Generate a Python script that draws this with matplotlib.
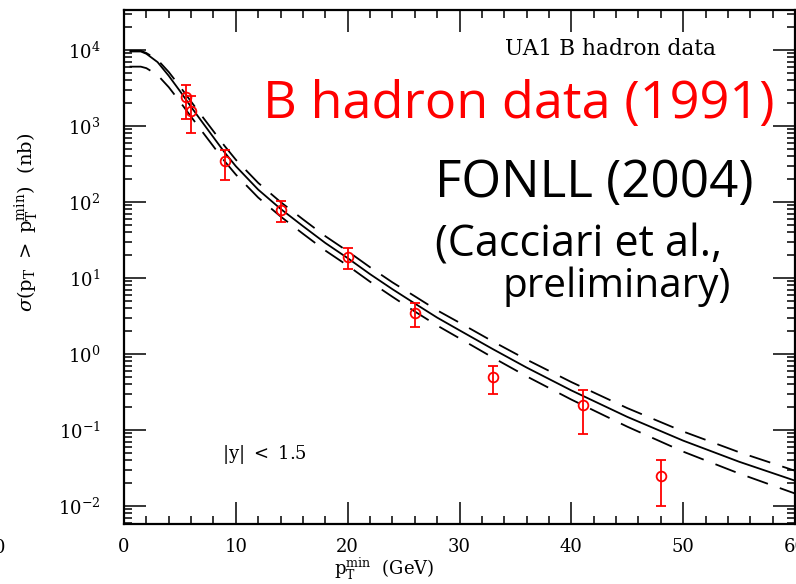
import matplotlib
matplotlib.use("Agg")
import matplotlib.pyplot as plt
from matplotlib.ticker import LogLocator, MultipleLocator, NullFormatter, FixedLocator

plt.rcParams["mathtext.fontset"] = "dejavuserif"
plt.rcParams["font.family"] = "DejaVu Serif"

# UA1 B hadron data: integrated cross section sigma(pT > pTmin) in nb
pt_data = [5.5, 6.0, 9.0, 14.0, 20.0, 26.0, 33.0, 41.0, 48.0]
sigma_data = [2380, 1590, 342, 79, 18.7, 3.46, 0.49, 0.21, 0.025]
sigma_hi = [3490, 2500, 488, 102, 24.8, 4.63, 0.70, 0.33, 0.0395]
sigma_lo = [1250, 800, 195, 55, 12.9, 2.24, 0.298, 0.0886, 0.0099]

# FONLL prediction: central value and uncertainty band edges
pt_theory = [0.5, 1.5, 2, 3, 4, 5, 6, 7, 8, 9, 10, 12, 14, 16, 18, 20, 22, 24,
             26, 28, 30, 33, 36, 40, 45, 50, 55, 60]
fonll_central = [9550, 9550, 8910, 6920, 4570, 2880, 1780, 1120, 708, 447, 295,
                 145, 81, 48, 28.8, 18.2, 11.2, 7.1, 4.6, 3.0, 2.04, 1.15, 0.66,
                 0.33, 0.148, 0.072, 0.038, 0.0214]
fonll_upper = [9770, 9770, 9110, 7420, 5130, 3310, 2090, 1330, 851, 544, 359,
               178, 99.6, 59.0, 35.4, 22.4, 13.8, 8.73, 5.73, 3.74, 2.57, 1.45,
               0.84, 0.425, 0.193, 0.095, 0.0507, 0.0289]
fonll_lower = [6030, 6030, 5760, 4680, 3240, 2085, 1320, 840, 537, 343, 229,
               114, 64.3, 38.1, 22.9, 14.5, 8.9, 5.64, 3.61, 2.36, 1.60, 0.89,
               0.506, 0.25, 0.110, 0.0516, 0.0266, 0.0145]

x_ticks = [0, 10, 20, 30, 40, 50, 60]
x_ticklabels = ["0", "10", "20", "30", "40", "50", "60"]
y_ticks = [1e-2, 1e-1, 1e0, 1e1, 1e2, 1e3, 1e4]
y_ticklabels = [r"$10^{-2}$", r"$10^{-1}$", r"$10^{0}$", r"$10^{1}$",
                r"$10^{2}$", r"$10^{3}$", r"$10^{4}$"]

W, H = 796, 584
fig = plt.figure(figsize=(W / 100, H / 100), dpi=100)
ax = fig.add_axes([124 / W, 60 / H, (795 - 124) / W, (524 - 10) / H])

ax.set_yscale("log")
ax.set_xlim(0, 60)
ax.set_ylim(10 ** -2.24, 10 ** 4.526)

# theory curves
ax.plot(pt_theory, fonll_central, color="black", lw=1.3, solid_capstyle="butt")
for band in (fonll_upper, fonll_lower):
    ln, = ax.plot(pt_theory, band, color="black", lw=1.3, dash_capstyle="butt")
    ln.set_dashes((12, 7))

# data points
yerr = [[c - l for c, l in zip(sigma_data, sigma_lo)],
        [h - c for c, h in zip(sigma_data, sigma_hi)]]
ax.errorbar(pt_data, sigma_data, yerr=yerr, fmt="o", mfc="none", mec="red",
            ecolor="red", ms=7, mew=1.3, elinewidth=1.3, capsize=3.3,
            capthick=1.3, zorder=5)

# axes styling
for sp in ax.spines.values():
    sp.set_linewidth(1.6)
ax.xaxis.set_major_locator(FixedLocator(x_ticks))
ax.set_xticklabels(x_ticklabels)
ax.xaxis.set_minor_locator(MultipleLocator(2))
ax.yaxis.set_major_locator(FixedLocator(y_ticks))
ax.set_yticklabels(y_ticklabels)
ax.yaxis.set_minor_locator(LogLocator(base=10, subs=range(2, 10), numticks=20))
ax.yaxis.set_minor_formatter(NullFormatter())
ax.tick_params(which="both", direction="in", top=True, right=True,
               width=1.1, color="black")
ax.tick_params(which="major", length=15.5)
ax.tick_params(which="minor", length=6)
ax.tick_params(axis="x", which="major", pad=10, labelsize=13)
ax.tick_params(axis="y", which="major", pad=17, labelsize=13)

fig.text(27 / W, 1 - 222 / H,
         r"$\sigma(\mathrm{p_T}\ >\ \mathrm{p_T^{min}})\ \ (\mathrm{nb})$",
         rotation=90, ha="center", va="center", fontsize=14)
fig.text(384 / W, 1 - 575 / H, r"$\mathrm{p_T^{min}}\ \ (\mathrm{GeV})$",
         ha="center", va="baseline", fontsize=13)
fig.text(0 / W, 1 - 553 / H, "0", ha="center", va="baseline", fontsize=13)

fig.text(222 / W, 1 - 459 / H, r"$|\mathrm{y}|\ <\ 1.5$", ha="left",
         va="baseline", fontsize=13)

big_font = "Open Sans"
texts = [
    ("UA1 B hadron data", 505, 717, 55, "black", "DejaVu Serif", 14),
    ("B hadron data (1991)", 263, 775, 118, "red", big_font, 30),
    ("FONLL (2004)", 435, 753, 197, "black", big_font, 30),
    ("(Cacciari et al.,", 435, 722, 257, "black", big_font, 30),
    ("preliminary)", 502, 730, 297, "black", big_font, 30),
]
fig.canvas.draw()
renderer = fig.canvas.get_renderer()
for s, x0, x1, yb, col, fam, fs in texts:
    t = fig.text(x0 / W, 1 - yb / H, s, ha="left", va="baseline",
                 color=col, family=fam, fontsize=fs)
    bb = t.get_window_extent(renderer)
    t.set_fontsize(fs * (x1 - x0) / bb.width)

fig.savefig("out.png", dpi=100)
